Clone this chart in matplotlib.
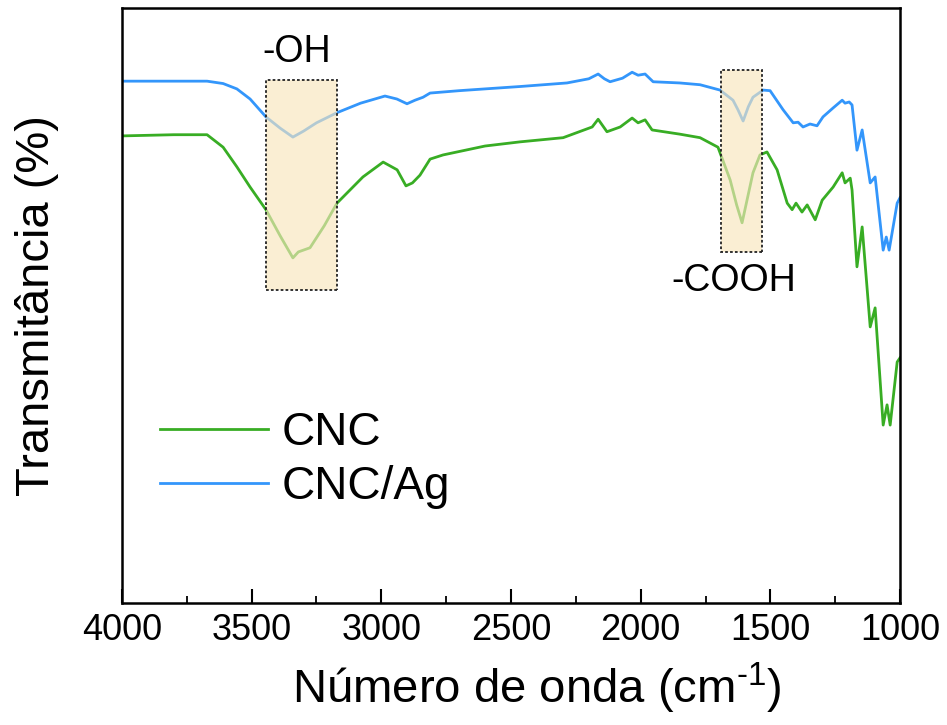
import matplotlib
matplotlib.use("Agg")
import matplotlib.pyplot as plt
from matplotlib.patches import Rectangle
from matplotlib.ticker import MultipleLocator

plt.rcParams['font.family'] = ['Liberation Sans', 'DejaVu Sans']
plt.rcParams['mathtext.fontset'] = 'custom'
plt.rcParams['mathtext.rm'] = 'Liberation Sans'

# FTIR spectra: wavenumber (cm-1) and transmittance (arbitrary %, offset)
wn_ag = [4000, 3800, 3672, 3610, 3557, 3506, 3445, 3390, 3341, 3300, 3250, 3171,
         3080, 2986, 2940, 2901, 2870, 2839, 2812, 2700, 2600, 2465, 2284, 2200,
         2164, 2140, 2118, 2070, 2033, 2010, 1983, 1952, 1850, 1771, 1694, 1644,
         1625, 1605, 1585, 1567, 1528, 1501, 1451, 1412, 1393, 1374, 1347, 1320,
         1297, 1258, 1223, 1212, 1196, 1185, 1166, 1146, 1115, 1096, 1065, 1053,
         1042, 1011, 1000]
t_ag = [87.7, 87.7, 87.7, 87.3, 86.4, 84.7, 81.7, 79.8, 78.3, 79.3, 80.7, 82.4,
        84.0, 85.2, 84.7, 83.9, 84.5, 85.0, 85.7, 86.1, 86.4, 86.8, 87.4, 88.1,
        88.9, 88.1, 87.6, 88.2, 89.2, 88.7, 88.9, 87.6, 87.4, 87.1, 86.2, 84.5,
        82.9, 81.0, 83.4, 85.0, 86.2, 86.1, 82.9, 80.7, 80.8, 80.0, 80.5, 80.2,
        81.7, 83.2, 84.5, 84.0, 84.2, 83.7, 76.1, 79.5, 70.6, 71.6, 59.3, 61.5,
        59.3, 67.2, 68.1]

wn_cnc = [4000, 3800, 3672, 3610, 3557, 3506, 3445, 3390, 3341, 3320, 3275, 3220,
          3171, 3071, 2993, 2939, 2905, 2880, 2851, 2812, 2762, 2600, 2465, 2299,
          2187, 2164, 2130, 2079, 2033, 2010, 1983, 1956, 1850, 1771, 1702, 1655,
          1630, 1609, 1590, 1567, 1540, 1513, 1474, 1435, 1416, 1401, 1378, 1358,
          1327, 1300, 1258, 1223, 1212, 1192, 1185, 1166, 1146, 1115, 1096, 1065,
          1050, 1038, 1011, 1000]
t_cnc = [78.5, 78.7, 78.7, 76.6, 73.3, 69.9, 66.1, 61.7, 58.0, 59.0, 59.7, 63.4,
         67.2, 71.6, 74.1, 72.8, 70.1, 70.6, 71.9, 74.6, 75.3, 76.8, 77.5, 78.2,
         80.0, 81.3, 79.2, 80.0, 81.5, 80.7, 81.2, 79.5, 78.8, 78.2, 76.6, 71.1,
         66.9, 63.9, 67.7, 72.3, 75.3, 75.8, 72.8, 67.2, 66.1, 67.2, 65.7, 66.9,
         64.4, 67.7, 69.9, 72.3, 70.6, 71.4, 69.4, 56.5, 63.2, 46.4, 49.6, 29.9,
         33.3, 29.9, 40.5, 41.2]

# Highlighted bands: (label, wn_high, wn_low, t_top, t_bottom)
oh_band = ("-OH", 3445, 3171, 87.9, 52.6)
cooh_band = ("-COOH", 1690, 1532, 89.6, 59.0)

green = "#38ad24"
blue = "#3396fb"

fig = plt.figure(figsize=(9.47, 7.25), dpi=100)
ax = fig.add_axes([0.1288, 0.1683, 0.8216, 0.8207])

ax.plot(wn_cnc, t_cnc, color=green, lw=2.0, label="CNC", solid_joinstyle="round")
ax.plot(wn_ag, t_ag, color=blue, lw=2.0, label="CNC/Ag", solid_joinstyle="round")

for label, hi, lo, top, bot in (oh_band, cooh_band):
    ax.add_patch(Rectangle((lo, bot), hi - lo, top - bot, facecolor="#f8e6bc",
                           alpha=0.65, edgecolor="none", zorder=3))
    ax.add_patch(Rectangle((lo, bot), hi - lo, top - bot, facecolor="none",
                           edgecolor="#222222", lw=1.3, ls=(0, (1.5, 1.2)), zorder=4))

ax.text((oh_band[1] + oh_band[2]) / 2 + 20, oh_band[3] + 1.6, oh_band[0],
        ha="center", va="bottom", fontsize=27)
ax.text((cooh_band[1] + cooh_band[2]) / 2 + 30, cooh_band[4] - 1.8, cooh_band[0],
        ha="center", va="top", fontsize=27)

ax.set_xlim(4000, 1000)
ax.set_ylim(0, 100)
ax.xaxis.set_major_locator(MultipleLocator(500))
ax.xaxis.set_minor_locator(MultipleLocator(250))
ax.tick_params(axis="x", which="major", direction="in", length=10, width=1.5,
               labelsize=26, pad=7, top=False)
ax.tick_params(axis="x", which="minor", direction="in", length=5, width=1.3, top=False)
ax.set_yticks([])
for s in ax.spines.values():
    s.set_linewidth(1.8)

ax.set_xlabel("Número de onda (cm$^{\\text{-1}}$)", fontsize=34, labelpad=9)
ax.xaxis.set_label_coords(0.533, -0.098)
ax.set_ylabel("Transmitância (%)", fontsize=34, labelpad=45)

ax.legend(loc="upper left", bbox_to_anchor=(0.049, 0.322), frameon=False,
          fontsize=33, handlelength=2.35, handletextpad=0.3, labelspacing=0.2,
          borderpad=0, borderaxespad=0)

fig.savefig("out.png", dpi=100)
